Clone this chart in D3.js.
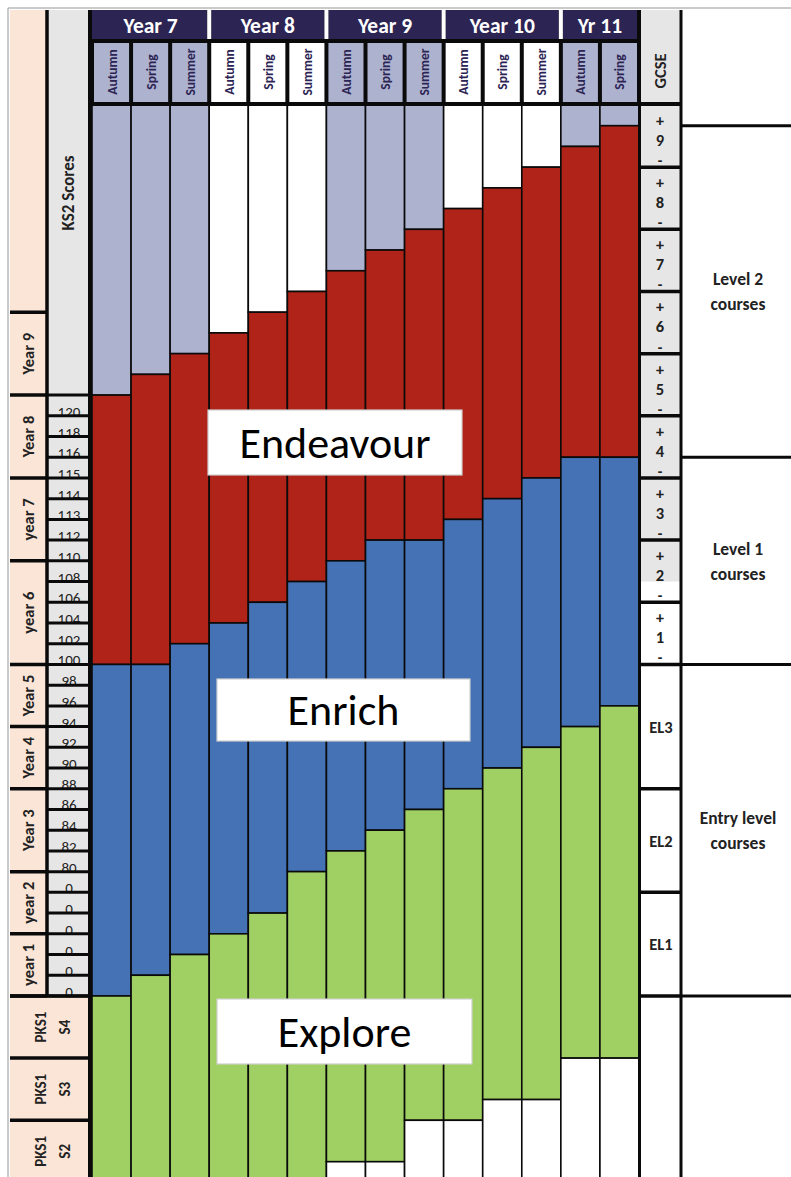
<!DOCTYPE html>
<html><head><meta charset="utf-8">
<script src="https://cdn.jsdelivr.net/npm/d3@7"></script>
<style>
body{margin:0;background:#fff}
svg{display:block}
text{font-family:Carlito,Lato,"Open Sans",sans-serif}
</style>
</head><body>
<svg id="c" width="791" height="1177"></svg>
<script>
// ---------- DATA ----------
const terms = ["Autumn","Spring","Summer","Autumn","Spring","Summer","Autumn","Spring","Summer","Autumn","Spring","Summer","Autumn","Spring"];
const yearLabels = ["Year 7","Year 8","Year 9","Year 10","Yr 11"];
const yearTerms = [3,3,3,3,2];
// stage boundaries, in grid rows counted from the top of the chart
const endeavourTop = [14,13,12,11,10,9,8,7,6,5,4,3,2,1];
const enrichTop    = [27,27,26,25,24,23,22,21,21,20,19,18,17,17];
const exploreTop   = [43,42,41,40,39,37,36,35,34,33,32,31,30,29];
const exploreEnd   = [53,53,53,53,53,53,51,51,49,49,48,48,46,46];
const ks2Groups = ["Year 9","Year 8","year 7","year 6","Year 5","Year 4","Year 3","year 2","year 1"];
const ks2GroupRows = [4,4,4,5,3,3,4,3,3];
const ks2Scores = ["120","118","116","115","114","113","112","110","108","106","104","102","100","98","96","94","92","90","88","86","84","82","80","0","0","0","0","0","0"];
const pks1Labels = ["S4","S3","S2"];
const gcseGrades = ["9","8","7","6","5","4","3","2","1"];
const entryLevels = ["EL3","EL2","EL1"];
const entryLevelRows = [6,5,5];
const courseBands = [["Level 2","courses"],["Level 1","courses"],["Entry level","courses"]];
const courseBandRows = [[1,17],[17,27],[27,43]];
const pathways = ["Endeavour","Enrich","Explore"];

// ---------- LAYOUT ----------
const C = {peach:"#fbe5d6", grey:"#e7e6e6", lav:"#adb2cf", red:"#af2318", blue:"#4472b4",
           green:"#a0cf63", navy:"#2c2453", line:"#0a0a0a", txt:"#222"};
const svg = d3.select("#c");
const x = d3.scaleBand().domain(d3.range(terms.length)).range([92, 639]);
const y = d3.scaleLinear().domain([0, 52]).range([105, 105 + 52 * 20.72]);
const yearOf = [];
yearTerms.forEach((n, yi) => { for (let k = 0; k < n; k++) yearOf.push(yi); });
const topFill = i => yearOf[i] % 2 === 0 ? C.lav : "#fff";

// outer frame
svg.append("line").attr("x1",8).attr("x2",791).attr("y1",8).attr("y2",8).attr("stroke","#b9b9b9").attr("stroke-width",1.5);
svg.append("line").attr("x1",8).attr("x2",8).attr("y1",8).attr("y2",1177).attr("stroke","#b9b9b9").attr("stroke-width",1.5);

// ---------- BARS ----------
const segs = [];
terms.forEach((t, i) => {
  const b = [0, endeavourTop[i], enrichTop[i], exploreTop[i], exploreEnd[i], 56];
  const fills = [topFill(i), C.red, C.blue, C.green, "#fff"];
  fills.forEach((f, s) => segs.push({i, y0:b[s], y1:b[s+1], f}));
});
svg.append("g").selectAll("rect").data(segs).join("rect")
  .attr("x", d => x(d.i)).attr("width", x.bandwidth())
  .attr("y", d => y(d.y0)).attr("height", d => y(d.y1) - y(d.y0))
  .attr("fill", d => d.f).attr("stroke", C.line).attr("stroke-width", 1.6);

// ---------- HEADER ----------
svg.append("rect").attr("x",88).attr("y",10).attr("width",552).attr("height",96).attr("fill",C.line);
let start = 0;
const yearG = svg.append("g");
yearLabels.forEach((lab, yi) => {
  const x0 = x(start), x1 = x(start + yearTerms[yi] - 1) + x.bandwidth();
  yearG.append("rect").attr("x", x0 + (yi ? 2 : 0)).attr("y",10).attr("width", x1 - x0 - (yi ? 2 : 0) - 2).attr("height",29).attr("fill",C.navy);
  yearG.append("text").attr("x",(x0+x1)/2).attr("y",32.5).attr("text-anchor","middle")
    .attr("fill","#fff").attr("font-weight","bold").attr("font-size",21.5).text(lab);
  if (yi) yearG.append("rect").attr("x", x0 - 2).attr("y",10).attr("width",4).attr("height",29).attr("fill","#fff");
  start += yearTerms[yi];
});
const sub = svg.append("g").selectAll("g").data(terms).join("g");
sub.append("rect").attr("x",(d,i)=>x(i)+2).attr("y",43).attr("width",x.bandwidth()-4).attr("height",59)
  .attr("fill",(d,i)=>topFill(i));
sub.append("text").attr("transform",(d,i)=>`translate(${x(i)+x.bandwidth()/2+5},72) rotate(-90)`)
  .attr("text-anchor","middle").attr("fill",C.navy).attr("font-weight","bold").attr("font-size",13.5).text(d=>d);

// ---------- LEFT: KS2 ----------
const L = svg.append("g");
L.append("rect").attr("x",10).attr("y",10).attr("width",37).attr("height",y(43)-10).attr("fill",C.peach);
L.append("rect").attr("x",47).attr("y",10).attr("width",42).attr("height",y(43)-10).attr("fill",C.grey);
L.append("rect").attr("x",10).attr("y",y(43)).attr("width",80).attr("height",1177-y(43)).attr("fill",C.peach);
L.append("text").attr("transform",`translate(74,193) rotate(-90)`).attr("text-anchor","middle")
  .attr("fill",C.txt).attr("font-weight","bold").attr("font-size",17).text("KS2 Scores");
// score cells
ks2Scores.forEach((s, k) => {
  const r = 14 + k;
  L.append("text").attr("x",69).attr("y",y(r+1)+1).attr("text-anchor","middle")
    .attr("fill",C.txt).attr("font-size",15).text(s);
});
// group labels
let row = 10;
const groupEdges = [10];
ks2Groups.forEach((g, gi) => {
  const r0 = row, r1 = row + ks2GroupRows[gi];
  L.append("text").attr("transform",`translate(${34},${(y(r0)+y(r1))/2}) rotate(-90)`).attr("text-anchor","middle")
    .attr("fill",C.txt).attr("font-weight","bold").attr("font-size",16.5).text(g);
  row = r1; groupEdges.push(r1);
});
pks1Labels.forEach((p, pi) => {
  const r0 = 43 + pi*3, cy = (y(r0)+y(r0+3))/2;
  L.append("text").attr("transform",`translate(46,${cy}) rotate(-90)`).attr("text-anchor","middle")
    .attr("fill",C.txt).attr("font-weight","bold").attr("font-size",15).text("PKS1");
  L.append("text").attr("transform",`translate(70,${cy}) rotate(-90)`).attr("text-anchor","middle")
    .attr("fill",C.txt).attr("font-weight","bold").attr("font-size",15).text(p);
});
// left lines
const lw = 3.5;
L.append("line").attr("x1",47).attr("x2",47).attr("y1",10).attr("y2",y(43)).attr("stroke",C.line).attr("stroke-width",lw);
groupEdges.forEach(r => L.append("line").attr("x1",10).attr("x2",47).attr("y1",y(r)).attr("y2",y(r)).attr("stroke",C.line).attr("stroke-width",lw));
d3.range(14, 44).forEach(r => L.append("line").attr("x1",47).attr("x2",90).attr("y1",y(r)).attr("y2",y(r)).attr("stroke",C.line).attr("stroke-width",3));
[43,46,49].forEach(r => L.append("line").attr("x1",10).attr("x2",90).attr("y1",y(r)).attr("y2",y(r)).attr("stroke",C.line).attr("stroke-width",lw));
svg.append("line").attr("x1",90).attr("x2",90).attr("y1",10).attr("y2",1177).attr("stroke",C.line).attr("stroke-width",4);

// ---------- RIGHT: GCSE ----------
const R = svg.append("g");
R.append("rect").attr("x",640).attr("y",10).attr("width",40).attr("height",92).attr("fill",C.grey);
R.append("rect").attr("x",640).attr("y",y(0)).attr("width",40).attr("height",y(23)-y(0)).attr("fill",C.grey);
R.append("text").attr("transform",`translate(666,71) rotate(-90)`).attr("text-anchor","middle")
  .attr("fill",C.txt).attr("font-weight","bold").attr("font-size",16.5).text("GCSE");
gcseGrades.forEach((g, gi) => {
  const t = y(gi*3), b = y(gi*3+3);
  R.append("text").attr("x",660).attr("y",t+21).attr("text-anchor","middle").attr("fill",C.txt).attr("font-weight","bold").attr("font-size",16).text("+");
  R.append("text").attr("x",660).attr("y",t+41).attr("text-anchor","middle").attr("fill",C.txt).attr("font-weight","bold").attr("font-size",16.5).text(g);
  R.append("text").attr("x",660).attr("y",b-1).attr("text-anchor","middle").attr("fill",C.txt).attr("font-weight","bold").attr("font-size",15).text("-");
});
let er = 27;
const elEdges = [];
entryLevels.forEach((e, ei) => {
  const r0 = er, r1 = er + entryLevelRows[ei];
  R.append("text").attr("x",661).attr("y",(y(r0)+y(r1))/2+6).attr("text-anchor","middle")
    .attr("fill",C.txt).attr("font-weight","bold").attr("font-size",16.5).text(e);
  er = r1; elEdges.push(r1);
});
R.append("rect").attr("x",638).attr("y",102).attr("width",44).attr("height",4).attr("fill",C.line);
d3.range(3, 28, 3).concat(elEdges).forEach(r => R.append("line").attr("x1",639).attr("x2",681).attr("y1",y(r)).attr("y2",y(r)).attr("stroke",C.line).attr("stroke-width",lw));
svg.append("line").attr("x1",639.5).attr("x2",639.5).attr("y1",10).attr("y2",1177).attr("stroke",C.line).attr("stroke-width",3);
svg.append("line").attr("x1",681).attr("x2",681).attr("y1",10).attr("y2",1177).attr("stroke",C.line).attr("stroke-width",3);

// course bands
courseBands.forEach((cb, ci) => {
  const [r0, r1] = courseBandRows[ci];
  const cy = (y(r0)+y(r1))/2;
  const t = R.append("text").attr("x",738).attr("text-anchor","middle").attr("fill",C.txt).attr("font-weight","bold").attr("font-size",17.5);
  t.append("tspan").attr("x",738).attr("y",cy-6).text(cb[0]);
  t.append("tspan").attr("x",738).attr("y",cy+19).text(cb[1]);
});
new Set(courseBandRows.flat()).forEach(r => R.append("line").attr("x1",681).attr("x2",791).attr("y1",y(r)).attr("y2",y(r)).attr("stroke",C.line).attr("stroke-width",3));

// ---------- PATHWAY LABELS ----------
const boxes = [[208,410,254,65],[217,679,253,62],[217,999,255,65]];
pathways.forEach((p, pi) => {
  const [bx, by, bw, bh] = boxes[pi];
  svg.append("rect").attr("x",bx).attr("y",by).attr("width",bw).attr("height",bh)
    .attr("fill","#fff").attr("stroke","#cfcfcf").attr("stroke-width",1.2);
  svg.append("text").attr("x",bx+bw/2).attr("y",by+bh/2+15).attr("text-anchor","middle")
    .attr("fill","#000").attr("font-size",44).text(p);
});
</script>
</body></html>
